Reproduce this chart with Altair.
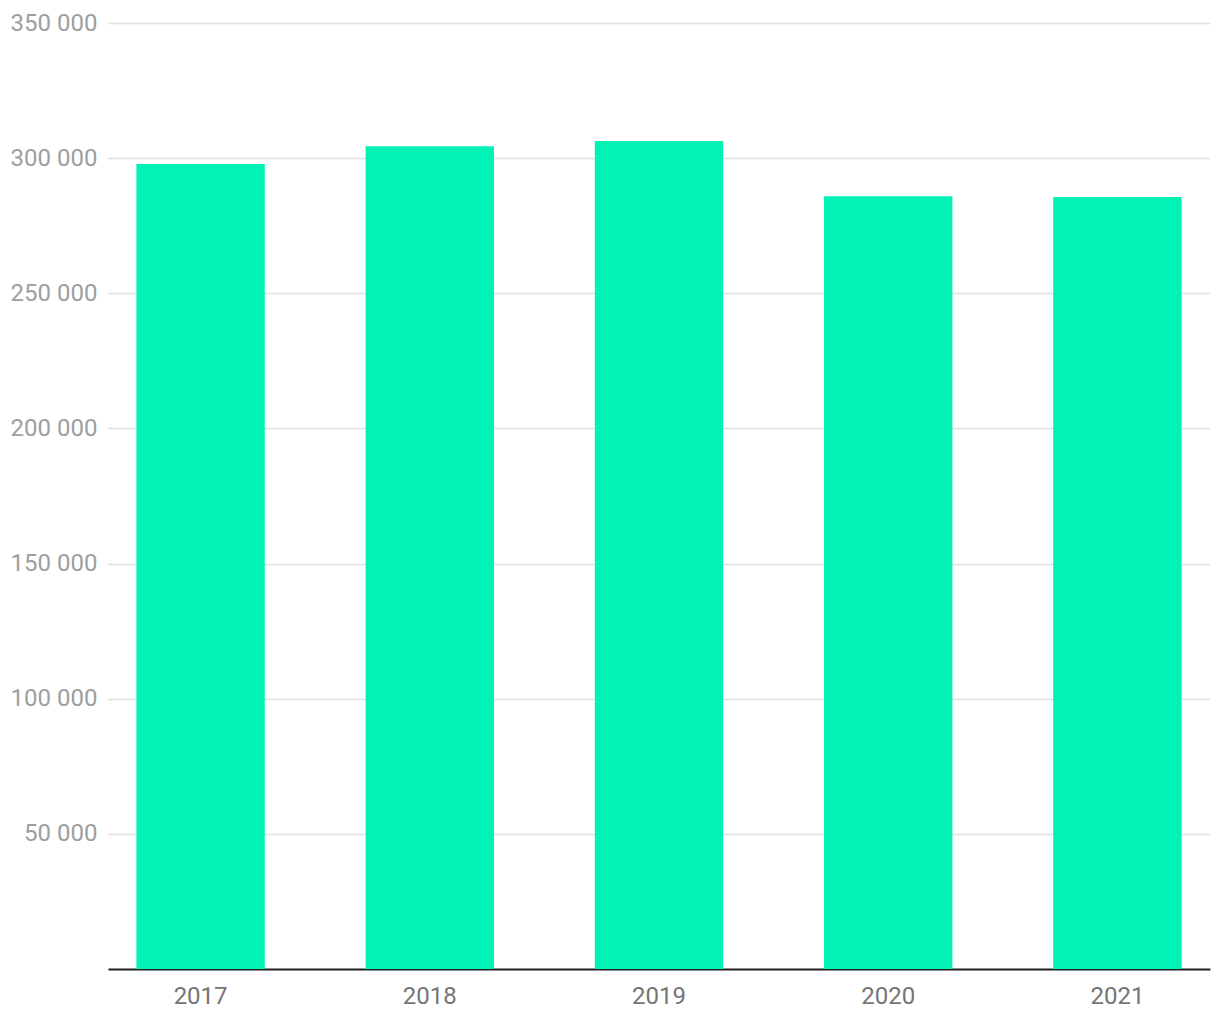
import altair as alt
import pandas as pd

years = ["2017", "2018", "2019", "2020", "2021"]
values = [297800, 304400, 306300, 285900, 285600]
y_ticks = [50000, 100000, 150000, 200000, 250000, 300000, 350000]

df = pd.DataFrame({"year": years, "value": values})

chart = alt.Chart(df).mark_bar(color="#00F2B4").encode(
    x=alt.X("year:N", title=None,
            scale=alt.Scale(paddingInner=0.44, paddingOuter=0.124),
            axis=alt.Axis(labelAngle=0, labelFont="Roboto", labelFontSize=24,
                          labelColor="#757575", ticks=False, domainColor="#212121",
                          domainWidth=2, labelPadding=15, grid=False)),
    y=alt.Y("value:Q", title=None,
            scale=alt.Scale(domain=[0, 350000], nice=False),
            axis=alt.Axis(values=y_ticks, labelFont="Roboto", labelFontSize=24,
                          labelColor="#9e9e9e", ticks=False, domain=False,
                          gridColor="#e0e0e0", gridWidth=1.5, labelPadding=11,
                          labelExpr="replace(format(datum.value, ','), ',', ' ')")),
).properties(
    width=1102, height=946,
    autosize=alt.AutoSizeParams(type="none"),
    padding={"left": 100, "top": 15, "right": 2, "bottom": 50},
).configure_view(stroke=None)

chart.save("out.html", embed_options={"renderer": "svg", "actions": False})
